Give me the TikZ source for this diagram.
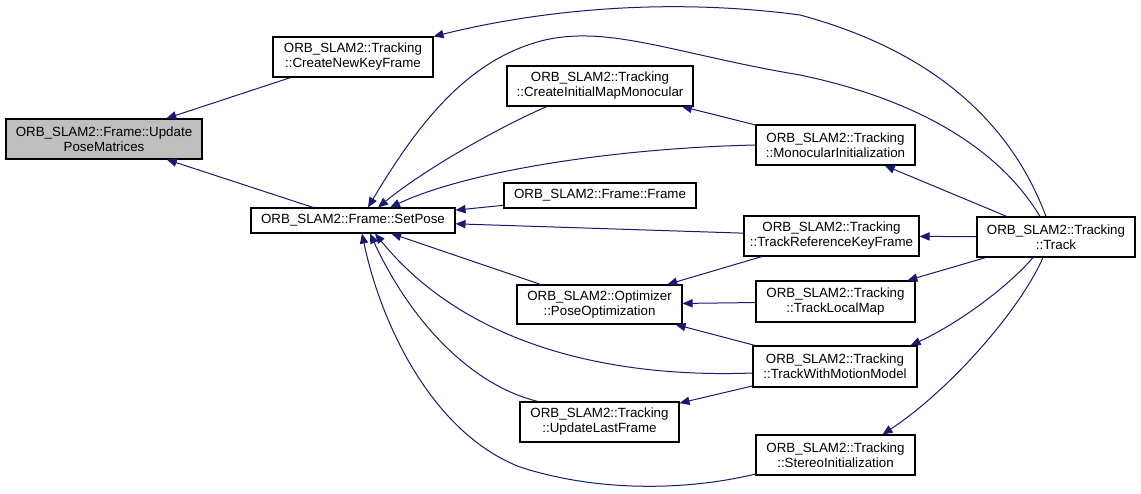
\documentclass[tikz,border=0pt]{standalone}
\usepackage{fontspec}
\setmainfont{Liberation Sans}
\usetikzlibrary{arrows.meta,calc}
\definecolor{edgeblue}{RGB}{25,25,112}
\definecolor{nodegray}{RGB}{191,191,191}

\begin{document}
\begin{tikzpicture}[x=0.75pt,y=-0.75pt,
  fn/.style 2 args={draw=black, line width=0.8pt, fill=white, align=center,
    inner sep=0pt, minimum width=#1*0.75pt, minimum height=#2*0.75pt,
    font=\fontsize{10}{11.25}\selectfont},
  call/.style={draw=edgeblue, line width=0.75pt,
    -{Triangle[length=7.5pt,width=6.2pt]}}]
\useasboundingbox (0,0) rectangle (1141,493);

%functions
\node[fn={196}{40}, fill=nodegray] (upm) at (104,139) {ORB\_SLAM2::Frame::Update\\PoseMatrices};
\node[fn={160}{40}] (cnkf) at (353,57) {ORB\_SLAM2::Tracking\\::CreateNewKeyFrame};
\node[fn={204}{25}] (setpose) at (353,220.5) {ORB\_SLAM2::Frame::SetPose};
\node[fn={186}{40}] (cimm) at (600,86) {ORB\_SLAM2::Tracking\\::CreateInitialMapMonocular};
\node[fn={192}{25}] (frame) at (600,195.5) {ORB\_SLAM2::Frame::Frame};
\node[fn={165}{39}] (poseopt) at (599.5,304.5) {ORB\_SLAM2::Optimizer\\::PoseOptimization};
\node[fn={159}{40}] (ulf) at (599.5,422) {ORB\_SLAM2::Tracking\\::UpdateLastFrame};
\node[fn={159}{40}] (mi) at (835.5,145) {ORB\_SLAM2::Tracking\\::MonocularInitialization};
\node[fn={175}{40}] (trkf) at (831.5,236) {ORB\_SLAM2::Tracking\\::TrackReferenceKeyFrame};
\node[fn={159}{41}] (tlm) at (835.5,301.5) {ORB\_SLAM2::Tracking\\::TrackLocalMap};
\node[fn={164}{41}] (twmm) at (835,366.5) {ORB\_SLAM2::Tracking\\::TrackWithMotionModel};
\node[fn={159}{40}] (si) at (835.5,455) {ORB\_SLAM2::Tracking\\::StereoInitialization};
\node[fn={158}{40}] (track) at (1056,237) {ORB\_SLAM2::Tracking\\::Track};

%straight calls
\draw[call] (cnkf) -- (upm);
\draw[call] (setpose) -- (upm);
\draw[call] (mi) -- (cimm);
\draw[call] (frame) -- (setpose);
\draw[call] (trkf) -- (setpose);
\draw[call] (poseopt) -- (setpose);
\draw[call] (trkf) -- (poseopt);
\draw[call] (tlm) -- (poseopt);
\draw[call] (twmm) -- (poseopt);
\draw[call] (twmm) -- (ulf);
\draw[call] (track) -- (trkf);
\draw[call] (track) -- (mi);
\draw[call] (track) -- (tlm);

%curved calls
\draw[call] ($(track.north)+(-10,0)$) .. controls (1010,120) and (930,50) .. (800,15)
  .. controls (650,-5) and (520,15) .. (cnkf.north east);
\draw[call] ($(track.north)+(-16,0)$) .. controls (1000,150) and (920,100) .. (800,75)
  .. controls (680,55) and (610,25) .. (545,40)
  .. controls (470,58) and (420,120) .. ($(setpose.north)+(15,0)$);
\draw[call] ($(cimm.south)+(-53,0)$) .. controls (510,122) and (430,165) .. ($(setpose.north)+(25,0)$);
\draw[call] (mi.west) .. controls (620,148) and (470,170) .. ($(setpose.north)+(37,0)$);
\draw[call] ($(twmm.west)+(0,6.5)$) .. controls (620,378) and (470,350) .. ($(setpose.south)+(22,0)$);
\draw[call] ($(ulf.north)+(-61.5,0)$) .. controls (470,385) and (410,320) .. ($(setpose.south)+(17,0)$);
\draw[call] ($(si.west)+(0,19)$) .. controls (690,490) and (600,493) .. (520,467)
  .. controls (430,432) and (380,320) .. ($(setpose.south)+(9,0)$);
\draw[call] ($(track.south)+(-23,0)$) .. controls (1005,290) and (955,325) .. ($(twmm.north east)+(-7,0)$);
\draw[call] ($(track.south)+(-13,0)$) .. controls (1020,310) and (950,390) .. ($(si.north)+(47,0)$);
\end{tikzpicture}
\end{document}
